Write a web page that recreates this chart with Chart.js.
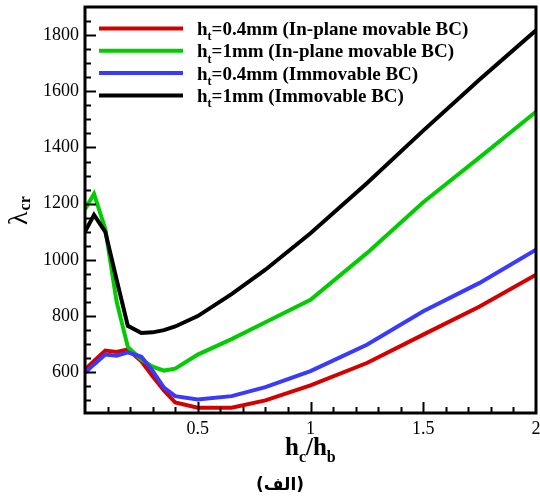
<!DOCTYPE html>
<html>
<head>
<meta charset="utf-8">
<script src="https://cdn.jsdelivr.net/npm/chart.js@4"></script>
<style>
  html, body { margin: 0; padding: 0; background: #fff; }
  #wrap { width: 540px; height: 500px; }
</style>
</head>
<body>
<div id="wrap"><canvas id="myChart" width="540" height="500"></canvas></div>
<script>
// hc/hb sample points (shared by all curves)
const hcRatio = [0, 0.04, 0.09, 0.14, 0.19, 0.25, 0.3, 0.35, 0.4, 0.5, 0.65, 0.8, 1.0, 1.25, 1.5, 1.75, 2.0];

const red04Movable   = [610, 640, 677, 672, 681, 639, 586, 535, 493, 474, 474, 500, 553, 633, 734, 834, 947];
const green1Movable  = [1180, 1235, 1110, 852, 690, 645, 620, 606, 613, 663, 718, 778, 858, 1024, 1205, 1365, 1527];
const blue04Immov    = [598, 628, 663, 659, 671, 655, 605, 545, 515, 503, 515, 547, 604, 698, 817, 918, 1036];
const black1Immov    = [1100, 1160, 1100, 930, 765, 740, 742, 750, 763, 800, 878, 965, 1095, 1273, 1460, 1642, 1817];

const seriesLabels = [
  'h_t=0.4mm (In-plane movable BC)',
  'h_t=1mm (In-plane movable BC)',
  'h_t=0.4mm (Immovable BC)',
  'h_t=1mm (Immovable BC)'
];

const xTicks = [0.5, 1, 1.5, 2];
const yTicks = [600, 800, 1000, 1200, 1400, 1600, 1800];

const SERIF = "'Liberation Serif', 'Times New Roman', serif";

function pts(ys) {
  return ys.map((v, i) => ({ x: hcRatio[i], y: v }));
}

// text with single-char or {..} subscripts, e.g. h_t or h_{cr}
function drawRich(ctx, str, x, y, size, bold) {
  const re = /_\{([^}]*)\}|_(.)/g;
  const w = bold ? 'bold ' : '';
  let m, last = 0;
  const put = (t, sub) => {
    const s = sub ? Math.round(size * 0.62) : size;
    ctx.font = w + s + 'px ' + SERIF;
    ctx.fillText(t, x, y + (sub ? size * 0.28 : 0));
    x += ctx.measureText(t).width;
  };
  while ((m = re.exec(str))) {
    if (m.index > last) put(str.slice(last, m.index), false);
    put(m[1] || m[2], true);
    last = re.lastIndex;
  }
  if (last < str.length) put(str.slice(last), false);
  return x;
}

const decor = {
  id: 'decor',
  afterDraw(chart) {
    const { ctx, chartArea: a, scales: { x, y } } = chart;
    ctx.save();
    ctx.strokeStyle = '#000';
    ctx.fillStyle = '#000';

    // inward ticks
    ctx.lineWidth = 2;
    ctx.beginPath();
    for (let v = 500; v <= 1850; v += 50) {
      const py = Math.round(y.getPixelForValue(v)) + 0.5;
      const len = yTicks.includes(v) ? 11 : 6;
      ctx.moveTo(a.left, py);
      ctx.lineTo(a.left + len, py);
    }
    for (let i = 1; i < 20; i++) {
      const px = Math.round(x.getPixelForValue(i / 10)) + 0.5;
      const len = i % 5 === 0 ? 11 : 6;
      ctx.moveTo(px, a.bottom);
      ctx.lineTo(px, a.bottom - len);
    }
    ctx.stroke();

    // frame
    ctx.lineWidth = 3;
    ctx.strokeRect(a.left, a.top, a.right - a.left, a.bottom - a.top);

    // legend
    chart.data.datasets.forEach((ds, i) => {
      const ry = 28.5 + i * 22.3;
      ctx.strokeStyle = ds.borderColor;
      ctx.lineWidth = 4;
      ctx.beginPath();
      ctx.moveTo(99, ry);
      ctx.lineTo(183, ry);
      ctx.stroke();
      ctx.textAlign = 'left';
      ctx.textBaseline = 'alphabetic';
      drawRich(ctx, ds.label, 197, ry + 6.5, 19, true);
    });

    // y title
    ctx.save();
    ctx.translate(27, 225);
    ctx.rotate(-Math.PI / 2);
    ctx.textAlign = 'left';
    ctx.font = '28px ' + SERIF;
    ctx.fillText('λ', 0, 0);
    const lw = ctx.measureText('λ').width;
    ctx.font = 'bold 16px ' + SERIF;
    ctx.fillText('cr', lw + 1, 3);
    ctx.restore();

    // x title
    ctx.textAlign = 'left';
    drawRich(ctx, 'h_c/h_b', 285, 455, 25, true);

    // caption
    ctx.textAlign = 'center';
    ctx.font = "bold 17px 'DejaVu Sans'";
    ctx.fillText('(الف)', 280, 490);

    ctx.restore();
  }
};

const colors = ['#d40000', '#00cc00', '#3a3aff', '#000000'];
const seriesValues = [red04Movable, green1Movable, blue04Immov, black1Immov];
const drawOrder = [4, 3, 1, 2];

const ctx = document.getElementById('myChart').getContext('2d');
const myChart = new Chart(ctx, {
  type: 'line',
  data: {
    datasets: seriesValues.map((ys, i) => ({
      label: seriesLabels[i],
      data: pts(ys),
      borderColor: colors[i],
      backgroundColor: colors[i],
      borderWidth: 4,
      pointRadius: 0,
      tension: 0,
      order: drawOrder[i]
    }))
  },
  options: {
    responsive: false,
    animation: false,
    layout: { padding: { top: 7, right: 4, left: 0, bottom: 0 } },
    plugins: { legend: { display: false }, tooltip: { enabled: false } },
    scales: {
      x: {
        type: 'linear',
        min: 0,
        max: 2,
        grid: { display: false, drawTicks: false },
        border: { display: false },
        afterBuildTicks: (s) => { s.ticks = xTicks.map(v => ({ value: v })); },
        afterFit: (s) => { s.height = 87; s.paddingLeft = 0; s.paddingRight = 0; },
        ticks: {
          autoSkip: false,
          maxRotation: 0,
          padding: 5,
          color: '#000',
          font: { family: SERIF, size: 18 },
          callback: (v) => String(v)
        }
      },
      y: {
        min: 455,
        max: 1900,
        grid: { display: false, drawTicks: false },
        border: { display: false },
        afterBuildTicks: (s) => { s.ticks = yTicks.map(v => ({ value: v })); },
        afterFit: (s) => { s.width = 85; s.paddingTop = 0; s.paddingBottom = 0; },
        ticks: {
          padding: 6,
          color: '#000',
          font: { family: SERIF, size: 18 },
          callback: (v) => String(v)
        }
      }
    }
  },
  plugins: [decor]
});
</script>
</body>
</html>
